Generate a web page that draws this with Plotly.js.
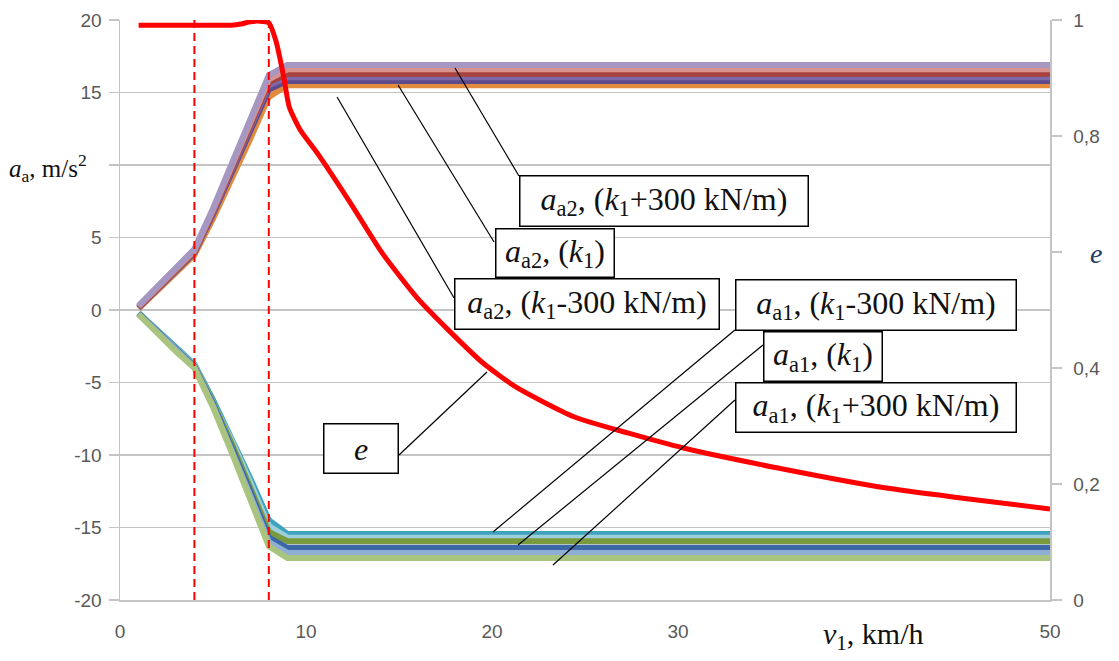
<!DOCTYPE html>
<html>
<head>
<meta charset="utf-8">
<script src="https://cdn.plot.ly/plotly-3.0.1.min.js"></script>
<style>html,body{margin:0;padding:0;background:#fff;}#chart{width:1119px;height:661px;}</style>
</head>
<body>
<div id="chart"></div>
<script>
// ---- data ----
const speed = [1, 2, 3, 4, 5, 6, 7, 8, 9, 50];

// a_a2 series (upper bundle), m/s^2
const a2_lightPurple = [0.3, 1.6, 2.9, 4.2, 7.0, 10.0, 13.1, 16.2, 16.9, 16.9];
const a2_rose        = [0.25, 1.55, 2.85, 4.1, 6.9, 9.9, 12.9, 15.9, 16.6, 16.6];
const a2_darkRed     = [0.2, 1.5, 2.8, 4.05, 6.8, 9.7, 12.7, 15.7, 16.3, 16.3];
const a2_violet      = [0.2, 1.45, 2.75, 4.0, 6.7, 9.6, 12.5, 15.5, 16.05, 16.05];
const a2_darkPurple  = [0.15, 1.4, 2.7, 3.95, 6.6, 9.4, 12.3, 15.2, 15.8, 15.8];
const a2_orange      = [0.1, 1.3, 2.6, 3.8, 6.3, 9.0, 11.8, 14.7, 15.5, 15.5];

// a_a1 series (lower bundle), m/s^2
const a1_teal        = [-0.2, -1.4, -2.6, -3.75, -6.2, -8.8, -11.6, -14.5, -15.45, -15.45];
const a1_lightAqua   = [-0.2, -1.45, -2.65, -3.8, -6.3, -9.0, -11.9, -14.9, -15.7, -15.7];
const a1_green       = [-0.25, -1.5, -2.7, -3.85, -6.4, -9.2, -12.2, -15.3, -15.95, -15.95];
const a1_blue        = [-0.25, -1.5, -2.75, -3.9, -6.5, -9.4, -12.5, -15.7, -16.4, -16.4];
const a1_lightBlue   = [-0.3, -1.55, -2.8, -3.95, -6.6, -9.6, -12.8, -16.0, -16.75, -16.75];
const a1_lightGreen  = [-0.3, -1.6, -2.85, -4.0, -6.7, -9.8, -13.0, -16.3, -17.1, -17.1];

// e (right axis)
const speedE = [1, 2, 3, 4, 5, 6, 6.5, 7, 7.5, 8, 8.4, 8.8, 9.1, 9.7, 10.6, 12.4, 14.1, 16, 17.7, 19.5, 21.3, 24.4, 27.3, 30.3, 35.3, 41.2, 45.2, 50];
const eValues = [0.991, 0.991, 0.991, 0.991, 0.991, 0.991, 0.993, 0.997, 0.998, 0.995, 0.962, 0.902, 0.85, 0.81, 0.771, 0.684, 0.598, 0.52, 0.464, 0.409, 0.367, 0.316, 0.288, 0.262, 0.228, 0.193, 0.176, 0.157];

// vertical markers (km/h)
const markerSpeeds = [4, 8];

// axis ticks
const xTickVals = [0, 10, 20, 30, 40, 50];
const xTickText = ['0', '10', '20', '30', '', '50'];
const yTickVals = [-20, -15, -10, -5, 0, 5, 10, 15, 20];
const yTickText = ['-20', '-15', '-10', '-5', '0', '5', '', '15', '20'];
const y2TickVals = [0, 0.2, 0.4, 0.6, 0.8, 1];
const y2TickText = ['0', '0,2', '0,4', '', '0,8', '1'];

// labels
const labelA2Plus  = '<i>a</i><sub>a2</sub>, (<i>k</i><sub>1</sub>+300 kN/m)';
const labelA2      = '<i>a</i><sub>a2</sub>, (<i>k</i><sub>1</sub>)';
const labelA2Minus = '<i>a</i><sub>a2</sub>, (<i>k</i><sub>1</sub>-300 kN/m)';
const labelA1Minus = '<i>a</i><sub>a1</sub>, (<i>k</i><sub>1</sub>-300 kN/m)';
const labelA1      = '<i>a</i><sub>a1</sub>, (<i>k</i><sub>1</sub>)';
const labelA1Plus  = '<i>a</i><sub>a1</sub>, (<i>k</i><sub>1</sub>+300 kN/m)';
const labelE       = '<i>e</i>';

// ---- traces ----
function aTrace(y, color) {
  return {x: speed, y: y, type: 'scatter', mode: 'lines', yaxis: 'y',
          line: {color: color, width: 6}, showlegend: false, hoverinfo: 'skip'};
}
const traces = [
  aTrace(a2_orange, '#E38B3C'),
  aTrace(a2_darkPurple, '#5F4B8B'),
  aTrace(a2_violet, '#7D68A8'),
  aTrace(a2_darkRed, '#A9423F'),
  aTrace(a2_rose, '#D6928F'),
  aTrace(a2_lightPurple, '#A596C2'),
  aTrace(a1_teal, '#3FA3BE'),
  aTrace(a1_lightAqua, '#9CCFDC'),
  aTrace(a1_green, '#7A9A3E'),
  aTrace(a1_blue, '#3D68A8'),
  aTrace(a1_lightBlue, '#8FAED6'),
  aTrace(a1_lightGreen, '#A9C47F'),
  {x: speedE, y: eValues, type: 'scatter', mode: 'lines', yaxis: 'y2',
   line: {color: '#FF0000', width: 5, shape: 'spline', smoothing: 0.6}, showlegend: false, hoverinfo: 'skip'}
];

// ---- layout ----
const serif = 'Liberation Serif';
const tickFont = {family: 'Liberation Sans', size: 19, color: '#595959'};
const gridC = '#C4C4C4';

function box(text, x, y, w, h) {
  return {text: text, x: x, y: y, xref: 'x', yref: 'y', xanchor: 'left', yanchor: 'top',
          showarrow: false, width: w, height: h, align: 'center', valign: 'middle',
          bgcolor: '#FFFFFF', bordercolor: '#000000', borderwidth: 1.5, borderpad: 0,
          font: {family: serif, size: 32, color: '#111111'}};
}
function connector(x0, y0, x1, y1) {
  return {type: 'line', xref: 'x', yref: 'y', x0: x0, y0: y0, x1: x1, y1: y1,
          line: {color: '#000000', width: 1.2}, layer: 'above'};
}

const shapes = markerSpeeds.map(v => ({type: 'line', xref: 'x', yref: 'paper', x0: v, x1: v, y0: 0, y1: 1,
  line: {color: '#FF0000', width: 2, dash: '8px,5px'}, layer: 'above'}));
shapes.push(
  connector(18.01, 16.69, 21.45, 9.24),
  connector(14.95, 15.52, 20.11, 4.69),
  connector(11.67, 14.69, 17.96, 0.83),
  connector(15.0, -10.0, 19.73, -4.28),
  connector(33.06, -1.38, 20.05, -15.31),
  connector(34.57, -2.41, 21.40, -16.21),
  connector(33.06, -6.21, 23.28, -17.59)
);

const annotations = [
  box(labelA2Plus, 21.45, 9.31, 287, 49),
  box(labelA2, 20.16, 5.66, 117, 47),
  box(labelA2Minus, 17.96, 2.21, 263, 49),
  box(labelA1Minus, 33.06, 2.14, 279, 49),
  box(labelA1, 34.57, -1.45, 117, 48),
  box(labelA1Plus, 33.06, -4.97, 279, 48),
  box(labelE, 10.91, -7.79, 73, 48),
  {text: '<i>a</i><sub>a</sub>, m/s<sup>2</sup>', xref: 'paper', yref: 'paper', x: -0.121, y: 0.745,
   xanchor: 'left', yanchor: 'middle', showarrow: false, font: {family: serif, size: 25, color: '#111111'}},
  {text: '<i>e</i>', xref: 'paper', yref: 'paper', x: 1.0495, y: 0.598,
   xanchor: 'center', yanchor: 'middle', showarrow: false, font: {family: serif, size: 28, color: '#1F3864'}},
  {text: '<i>v</i><sub>1</sub>, km/h', xref: 'paper', yref: 'paper', x: 0.8097, y: -0.062,
   xanchor: 'center', yanchor: 'middle', showarrow: false, font: {family: serif, size: 30, color: '#111111'}}
];

// spell-check style dotted underline under the "e" label
shapes.push({type: 'line', xref: 'x', yref: 'y', x0: 12.5, x1: 13.5, y0: -10.55, y1: -10.55,
  line: {color: '#4CAF50', width: 2, dash: 'dot'}, layer: 'above'});

const layout = {
  width: 1119, height: 661,
  margin: {l: 120, r: 69, t: 20, b: 61},
  paper_bgcolor: '#FFFFFF', plot_bgcolor: '#FFFFFF',
  showlegend: false,
  xaxis: {range: [0, 50], tickvals: xTickVals, ticktext: xTickText, showgrid: false, zeroline: false,
          showline: true, linecolor: gridC, linewidth: 1.5, ticks: '', tickfont: tickFont,
          ticklabelstandoff: 14, fixedrange: true},
  yaxis: {range: [-20, 20], tickvals: yTickVals, ticktext: yTickText, showgrid: true, gridcolor: gridC, gridwidth: 1.5,
          zeroline: false, showline: true, linecolor: gridC, linewidth: 1.5, ticks: 'outside', ticklen: 10,
          tickcolor: gridC, tickwidth: 1.5, tickfont: tickFont, ticklabelstandoff: 3, fixedrange: true},
  yaxis2: {range: [0, 1], overlaying: 'y', side: 'right', tickvals: y2TickVals, ticktext: y2TickText,
           showgrid: false, zeroline: false, showline: true, linecolor: gridC, linewidth: 1.5,
           ticks: 'outside', ticklen: 10, tickcolor: gridC, tickwidth: 1.5, tickfont: tickFont,
           ticklabelstandoff: 8, fixedrange: true},
  shapes: shapes,
  annotations: annotations
};

Plotly.newPlot('chart', traces, layout, {displayModeBar: false, staticPlot: true});
</script>
</body>
</html>
